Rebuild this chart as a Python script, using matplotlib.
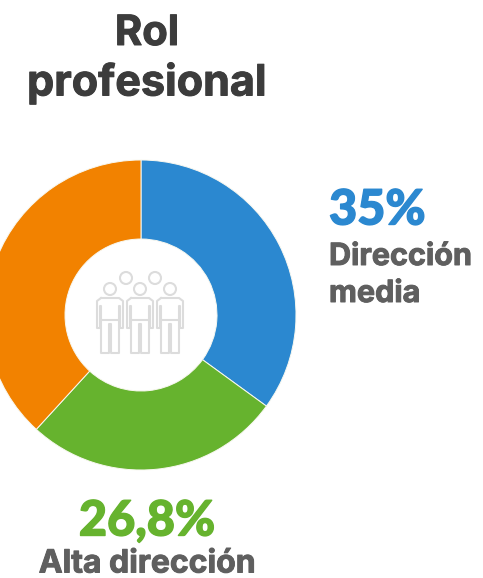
import matplotlib.pyplot as plt
from matplotlib.patches import Circle
import matplotlib.patheffects as pe

plt.rcParams['font.family'] = ['Inter', 'DejaVu Sans']

roles = ["Dirección media", "Alta dirección", "Otros"]
shares = [35, 26.8, 38.2]
colors = ["#2b88d0", "#66b32e", "#f28200"]
grey_text = "#5f5f5f"
title_lines = ["Rol", "profesional"]

W, H = 483, 578
fig = plt.figure(figsize=(W / 100, H / 100), dpi=100)
ax = fig.add_axes([0, 0, 1, 1])

# donut, running clockwise from twelve o'clock
ax.pie(shares, colors=colors, startangle=90, counterclock=False,
       center=(141, H - 315), radius=155,
       wedgeprops=dict(width=79, edgecolor="#f8f8f0", linewidth=0.7))

ax.set_xlim(0, W)
ax.set_ylim(0, H)
ax.set_aspect("equal")
ax.axis("off")

# people icon in the hole of the donut
icon = "#dcdcdc"


def person(cx, top):
    # one outlined figure: shoulders, arms, then the legs
    xs = [cx - 9, cx - 13, cx - 13, cx - 10, cx - 10, cx - 9, cx - 9, cx - 1, cx - 1,
          cx + 1, cx + 1, cx + 9, cx + 9, cx + 10, cx + 10, cx + 13, cx + 13, cx + 9, cx - 9]
    ys = [top, top + 3, top + 30, top + 30, top + 8, top + 8, top + 55, top + 55, top + 26,
          top + 26, top + 55, top + 55, top + 8, top + 8, top + 30, top + 30, top + 3, top, top]
    ax.plot(xs, [H - y for y in ys], color=icon, lw=1.5, solid_joinstyle="round")
    ax.plot([cx - 9, cx + 9], [H - top - 22] * 2, color=icon, lw=1.5)


for cx in (110, 140, 170):
    person(cx, 298)
    ax.add_patch(Circle((cx, H - 289), 6, fill=False, ec=icon, lw=1.5))
for cx in (126, 155):
    ax.add_patch(Circle((cx, H - 278), 6, fill=False, ec=icon, lw=1.5))


def label(x, y, s, size, color, ha="left", family="Inter", weight="bold", stroke=0.7):
    # a thin outline of the same colour gives the heavy look of the lettering
    t = ax.text(x, H - y, s, ha=ha, va="center", fontsize=size, fontweight=weight,
                color=color, family=[family, "DejaVu Sans"])
    t.set_path_effects([pe.withStroke(linewidth=stroke, foreground=color)])


# title
label(147, 34, title_lines[0], 30, "#3c3c3c", ha="center")
label(147, 83, title_lines[1], 31, "#3c3c3c", ha="center")

# blue label
label(329, 210, "35%", 35, colors[0], family="Lato", weight="black", stroke=1.0)
label(329, 257, "Dirección", 22, grey_text)
label(329, 294, "media", 22, grey_text)

# green label
label(147, 521, "26,8%", 35, colors[1], ha="center", family="Lato", weight="black", stroke=1.0)
label(147, 564, "Alta dirección", 23, grey_text, ha="center")

fig.savefig("out.png", dpi=100)
